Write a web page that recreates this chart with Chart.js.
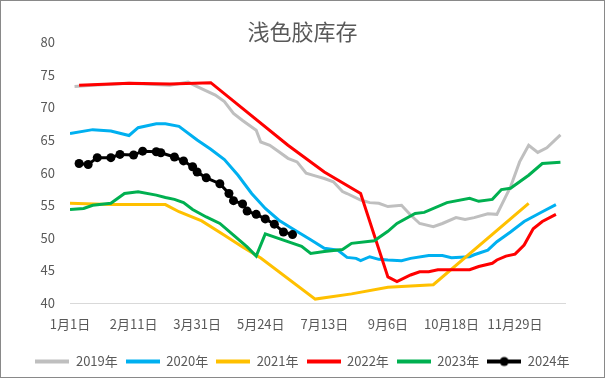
<!DOCTYPE html>
<html>
<head>
<meta charset="utf-8">
<script src="https://cdn.jsdelivr.net/npm/chart.js@4/dist/chart.umd.min.js"></script>
<style>
  html, body { margin: 0; padding: 0; background: #fff; }
  #wrap { position: relative; width: 605px; height: 378px; }
  #frame { position: absolute; left: 0; top: 0; width: 605px; height: 378px; box-sizing: border-box; border: 1px solid #898989; pointer-events: none; }
  canvas { position: absolute; left: 0; top: 0; }
</style>
</head>
<body>
<div id="wrap">
  <canvas id="c" width="605" height="378"></canvas>
  <div id="frame"></div>
</div>
<script>
// Tick labels shown every 14 slots on the horizontal axis
const tickLabels = ['1月1日', '2月11日', '3月31日', '5月24日', '7月13日', '9月6日', '10月18日', '11月29日'];
const seriesNames = ['2019年', '2020年', '2021年', '2022年', '2023年', '2024年'];

// Position slots (time order) and values for each year
const slots2019 = [1,5,13,22,26,28,32,34,36,38,41,42,44,46,48,50,52,54,56,58,60,61,64,66,68,70,73,75,77,80,82,85,87,89,92,94,97,99,101,103,105,108];
const vals2019  = [73.2,73.4,73.7,73.4,73.9,73.2,71.9,70.9,69.1,68.0,66.5,64.7,64.2,63.2,62.2,61.65,59.9,59.5,59.1,58.6,57.1,56.8,55.8,55.4,55.3,54.8,55.0,53.5,52.2,51.7,52.2,53.1,52.8,53.1,53.7,53.6,57.8,61.65,64.2,63.1,63.8,65.8];

const slots2020 = [0,5,9,13,15,19,21,24,28,31,34,37,40,43,46,49,53,56,59,61,63,64,66,68,70,73,75,79,82,84,88,89,92,94,97,100,104,107];
const vals2020  = [66.0,66.6,66.4,65.7,66.9,67.5,67.5,67.1,65.0,63.6,62.0,59.6,56.8,54.5,52.7,51.4,49.7,48.4,48.1,47.0,46.85,46.5,47.1,46.7,46.6,46.5,46.85,47.3,47.3,46.95,47.1,47.4,48.1,49.4,50.9,52.5,54.0,55.1];

const slots2021 = [0,9,21,24,29,34,38,42,54,62,70,80,101];
const vals2021  = [55.3,55.1,55.1,54.0,52.6,50.4,48.6,46.9,40.6,41.4,42.4,42.8,55.3];

const slots2022 = [2,13,22,31,48,56,64,70,72,75,77,79,81,88,90,93,94,96,98,100,102,104,107];
const vals2022  = [73.4,73.7,73.6,73.8,64.2,60.1,56.8,44.0,43.3,44.3,44.8,44.8,45.1,45.1,45.6,46.1,46.6,47.2,47.5,48.9,51.4,52.5,53.6];

const slots2023 = [0,3,5,9,12,15,19,21,23,25,27,30,33,36,39,41,43,47,51,53,56,60,62,67,70,72,76,78,83,88,90,93,95,97,101,104,108];
const vals2023  = [54.35,54.5,55.0,55.3,56.8,57.05,56.55,56.2,55.9,55.4,54.35,53.2,52.2,50.4,48.6,47.2,50.6,49.65,48.7,47.6,47.9,48.2,49.15,49.55,51.0,52.2,53.75,53.9,55.4,56.05,55.6,55.9,57.4,57.6,59.6,61.4,61.6];

const slots2024 = [2,4,6,9,11,14,16,19,20,23,25,27,28,30,33,35,36,38,39,41,43,45,47,49];
const vals2024  = [61.4,61.25,62.3,62.3,62.8,62.7,63.3,63.2,63.05,62.4,61.8,60.9,60.1,59.2,58.3,56.8,55.7,55.2,54.1,53.6,52.9,52.1,50.9,50.5];

const colors = ['#BFBFBF', '#00B0F0', '#FFC000', '#FF0000', '#00B050', '#000000'];
const allSlots = [slots2019, slots2020, slots2021, slots2022, slots2023, slots2024];
const allVals = [vals2019, vals2020, vals2021, vals2022, vals2023, vals2024];

const FONT = '"Noto Sans CJK SC", "Noto Sans", sans-serif';
const TXT = '#595959';

function legendIcon(color, marker) {
  const cv = document.createElement('canvas');
  cv.width = 34; cv.height = 12;
  const g = cv.getContext('2d');
  g.strokeStyle = color; g.lineWidth = 4; g.lineCap = 'butt';
  g.beginPath(); g.moveTo(0, 6); g.lineTo(34, 6); g.stroke();
  if (marker) {
    g.fillStyle = color;
    g.beginPath(); g.arc(17, 6, 4.5, 0, Math.PI * 2); g.fill();
  }
  return cv;
}
const icons = colors.map((c, i) => legendIcon(c, i === 5));

const datasets = seriesNames.map((name, i) => ({
  label: name,
  data: allSlots[i].map((s, j) => ({ x: s, y: allVals[i][j] })),
  borderColor: colors[i],
  backgroundColor: colors[i],
  borderWidth: 3,
  pointRadius: i === 5 ? 4.5 : 0,
  pointHoverRadius: 0,
  pointBackgroundColor: colors[i],
  pointBorderWidth: 0,
  tension: 0,
  fill: false,
  order: 6 - i
}));

new Chart(document.getElementById('c'), {
  type: 'line',
  data: { datasets },
  options: {
    responsive: false,
    animation: false,
    devicePixelRatio: 1,
    events: [],
    layout: { padding: 0 },
    plugins: {
      tooltip: { enabled: false },
      title: {
        display: true,
        text: '浅色胶库存',
        color: TXT,
        font: { family: FONT, size: 22, weight: 'normal', lineHeight: 1 },
        padding: { top: 20.3, bottom: 0 }
      },
      legend: {
        display: true,
        position: 'bottom',
        labels: {
          color: TXT,
          font: { family: FONT, size: 13 },
          padding: 8,
          usePointStyle: true,
          pointStyleWidth: 34,
          generateLabels(chart) {
            const items = Chart.defaults.plugins.legend.labels.generateLabels(chart);
            items.sort((a, b) => a.datasetIndex - b.datasetIndex);
            items.forEach(it => { it.pointStyle = icons[it.datasetIndex]; it.fontColor = TXT; });
            return items;
          }
        }
      }
    },
    scales: {
      x: {
        type: 'linear',
        min: 0,
        max: 109,
        grid: { display: false, drawTicks: false },
        border: { display: true, color: '#D9D9D9', width: 1 },
        ticks: {
          stepSize: 14,
          includeBounds: false,
          autoSkip: false,
          maxRotation: 0,
          padding: 13,
          color: TXT,
          font: { family: FONT, size: 13 },
          callback: (v) => (v % 14 === 0 && tickLabels[v / 14]) ? tickLabels[v / 14] : ''
        },
        afterFit(scale) { scale.height = 44; }
      },
      y: {
        min: 40,
        max: 80,
        grid: { display: false, drawTicks: false },
        border: { display: false },
        ticks: {
          stepSize: 5,
          padding: 15,
          color: TXT,
          font: { family: FONT, size: 13 }
        },
        afterFit(scale) { scale.width = 70; }
      },
      yRight: {
        position: 'right',
        min: 40,
        max: 80,
        grid: { display: false, drawTicks: false },
        border: { display: false },
        ticks: { display: false },
        afterFit(scale) { scale.width = 40; }
      }
    }
  }
});
</script>
</body>
</html>
